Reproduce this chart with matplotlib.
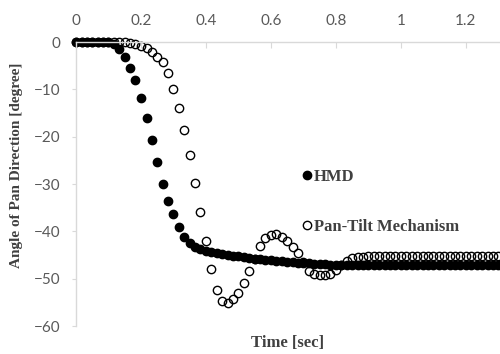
import matplotlib
matplotlib.use("Agg")
import matplotlib.pyplot as plt

# time of each sample [sec] (60 Hz)
time = [0.000, 0.017, 0.033, 0.050, 0.067, 0.083, 0.100, 0.117, 0.133, 0.150,
        0.167, 0.183, 0.200, 0.217, 0.233, 0.250, 0.267, 0.283, 0.300, 0.317,
        0.333, 0.350, 0.367, 0.383, 0.400, 0.417, 0.433, 0.450, 0.467, 0.483,
        0.500, 0.517, 0.533, 0.550, 0.567, 0.583, 0.600, 0.617, 0.633, 0.650,
        0.667, 0.683, 0.700, 0.717, 0.733, 0.750, 0.767, 0.783, 0.800, 0.817,
        0.833, 0.850, 0.867, 0.883, 0.900, 0.917, 0.933, 0.950, 0.967, 0.983,
        1.000, 1.017, 1.033, 1.050, 1.067, 1.083, 1.100, 1.117, 1.133, 1.150,
        1.167, 1.183, 1.200, 1.217, 1.233, 1.250, 1.267, 1.283, 1.300]

hmd = [0.0, 0.0, 0.0, 0.0, 0.0, 0.0, 0.0, -0.3, -1.5, -3.2,
       -5.4, -8.1, -11.9, -16.1, -20.7, -25.4, -30.0, -33.6, -36.4, -39.1,
       -41.2, -42.5, -43.3, -43.8, -44.1, -44.3, -44.5, -44.7, -44.9, -45.1,
       -45.3, -45.5, -45.6, -45.8, -45.9, -46.0, -46.1, -46.2, -46.3, -46.4,
       -46.5, -46.6, -46.6, -46.7, -46.8, -46.9, -46.9, -47.0, -47.0, -47.0,
       -47.0, -47.0, -47.0, -47.0, -47.0, -47.0, -47.0, -47.0, -47.0, -47.0,
       -47.0, -47.0, -47.0, -47.0, -47.0, -47.0, -47.0, -47.0, -47.0, -47.0,
       -47.0, -47.0, -47.0, -47.0, -47.0, -47.0, -47.0, -47.0, -47.0]

pan_tilt = [0.0, 0.0, 0.0, 0.0, 0.0, 0.0, 0.0, 0.0, 0.0, 0.0,
            -0.1, -0.3, -0.8, -1.3, -2.1, -3.2, -4.3, -6.5, -10.0, -14.0,
            -18.6, -23.8, -29.8, -35.9, -42.0, -48.0, -52.4, -54.8, -55.2, -54.3,
            -53.0, -51.0, -48.4, -45.8, -43.0, -41.5, -40.8, -40.6, -41.2, -42.0,
            -43.3, -44.6, -46.5, -48.3, -49.0, -49.3, -49.2, -48.9, -48.2, -47.2,
            -46.2, -45.7, -45.5, -45.4, -45.3, -45.3, -45.3, -45.3, -45.3, -45.3,
            -45.3, -45.3, -45.3, -45.3, -45.3, -45.3, -45.3, -45.3, -45.3, -45.3,
            -45.3, -45.3, -45.3, -45.3, -45.3, -45.3, -45.3, -45.3, -45.3]

xticks = [0, 0.2, 0.4, 0.6, 0.8, 1, 1.2]
xticklabels = ["0", "0.2", "0.4", "0.6", "0.8", "1", "1.2"]
yticks = [0, -10, -20, -30, -40, -50, -60]

fig = plt.figure(figsize=(5, 3.54), dpi=100)
ax = fig.add_axes([0.152, 0.079, 0.848, 0.802])

ax.plot(time, hmd, "o", color="black", ms=6, label="HMD", clip_on=False)
ax.plot(time, pan_tilt, "o", mfc="none", mec="black", mew=1.0, ms=6,
        label="Pan-Tilt Mechanism", clip_on=False)

ax.set_xlim(0, 1.305)
ax.set_ylim(-60, 0)

ax.xaxis.set_ticks_position("top")
ax.set_xticks(xticks)
ax.set_xticklabels(xticklabels)
ax.set_yticks(yticks)

for s in ["bottom", "right"]:
    ax.spines[s].set_visible(False)
for s in ["top", "left"]:
    ax.spines[s].set_color("#d9d9d9")
    ax.spines[s].set_linewidth(1.0)

ax.tick_params(axis="x", direction="in", length=4, color="#d9d9d9", pad=10,
               labelsize=11, labelcolor="#595959")
ax.tick_params(axis="y", direction="out", length=3, color="#d9d9d9", pad=8,
               labelsize=11, labelcolor="#595959")
for lab in ax.get_xticklabels() + ax.get_yticklabels():
    lab.set_family("Lato")

lbl_font = dict(family="Liberation Serif", weight="bold", color="#404040")
ax.text(0.5, -0.06, "Time [sec]", transform=ax.transAxes, ha="center", va="center",
        size=12, **lbl_font)
fig.text(0.034, 1 - 165 / 354, "Angle of Pan Direction [degree]", rotation=90,
         ha="center", va="center", size=11, **lbl_font)

leg = ax.legend(loc="upper left", bbox_to_anchor=(0.606, 0.522), bbox_transform=fig.transFigure,
                frameon=False, handlelength=0.5, handletextpad=0.15, labelspacing=2.0,
                borderpad=0, borderaxespad=0,
                prop=dict(family="Liberation Serif", weight="bold", size=12))
for t in leg.get_texts():
    t.set_color("#404040")

fig.savefig("out.png", dpi=100)
